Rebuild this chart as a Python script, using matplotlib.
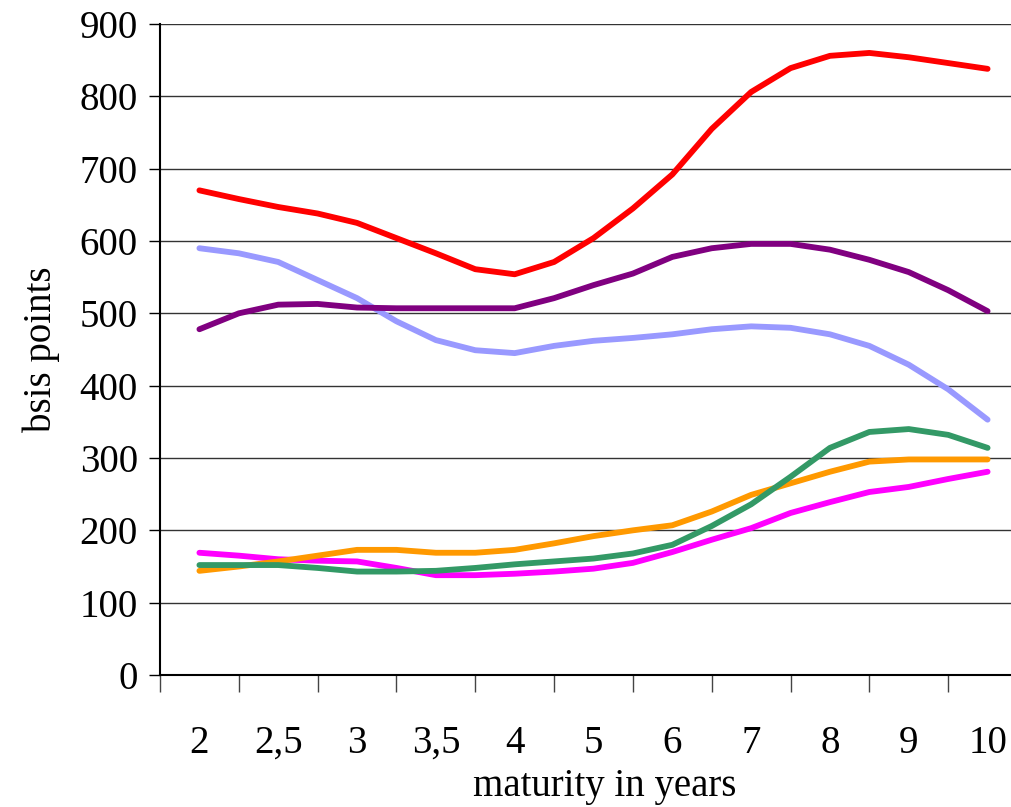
import matplotlib
matplotlib.use("Agg")
import numpy as np
from matplotlib import pyplot as plt

# maturity categories on the x axis
categories = ['2', '2,5', '3', '3,5', '4', '5', '6', '7', '8', '9', '10']
# curves are drawn as polylines sampled every half category
steps = [0, 0.5, 1, 1.5, 2, 2.5, 3, 3.5, 4, 4.5, 5, 5.5, 6, 6.5, 7, 7.5, 8, 8.5, 9, 9.5, 10]

red = [670, 658, 647, 638, 625, 604, 583, 561, 554, 571, 604, 645, 692, 755, 806, 839, 856, 860, 854, 846, 838]
purple = [478, 500, 512, 513, 508, 507, 507, 507, 507, 521, 539, 555, 578, 590, 596, 596, 588, 574, 557, 532, 503]
lavender = [590, 583, 571, 546, 521, 489, 463, 449, 445, 455, 462, 466, 471, 478, 482, 480, 471, 455, 429, 395, 353]
green = [152, 152, 152, 148, 143, 143, 144, 148, 153, 157, 161, 168, 180, 206, 236, 274, 314, 336, 340, 332, 314]
orange = [144, 150, 157, 165, 173, 173, 169, 169, 173, 182, 192, 200, 207, 226, 249, 265, 281, 295, 298, 298, 298]
magenta = [169, 165, 160, 158, 157, 148, 138, 138, 140, 143, 147, 155, 170, 187, 203, 224, 239, 253, 260, 271, 281]

series = [
    (magenta, '#FF00FF'),
    (orange, '#FF9900'),
    (green, '#339966'),
    (lavender, '#9999FF'),
    (purple, '#800080'),
    (red, '#FF0000'),
]

plt.rcParams['font.family'] = ['Liberation Serif', 'DejaVu Serif']

fig = plt.figure(figsize=(10.12, 8.07), dpi=100)
ax = fig.add_axes([160 / 1012, 1 - 675 / 807, (1027 - 160) / 1012, (675 - 24) / 807])

for vals, col in series:
    ax.plot(steps, vals, color=col, lw=4.2, solid_capstyle='round', solid_joinstyle='round', zorder=3)

ax.set_xlim(-0.5, len(categories) - 0.5)
ax.set_ylim(0, 900)
ax.set_yticks(range(0, 1000, 100))
ax.tick_params(axis='y', labelsize=28, length=8, width=1, pad=8, direction='out')

ax.set_xticks(range(len(categories)))
ax.set_xticklabels(categories)
ax.set_xticks(np.arange(-0.5, len(categories), 1), minor=True)
ax.tick_params(axis='x', which='major', length=0, labelsize=28, pad=36)
ax.tick_params(axis='x', which='minor', length=12, width=1, direction='out', color='#444444')

ax.grid(axis='y', color='#333333', lw=1)
ax.set_axisbelow(True)
for side in ['top', 'right']:
    ax.spines[side].set_visible(False)
ax.spines['left'].set_linewidth(1.5)
ax.spines['bottom'].set_linewidth(1.5)

ax.set_ylabel('bsis points', fontsize=28, labelpad=14)
ax.set_xlabel('maturity in years', fontsize=28)
ax.xaxis.set_label_coords((605 - 160) / (1027 - 160), -(768 - 675) / (675 - 24))

fig.savefig('out.png', dpi=100)
